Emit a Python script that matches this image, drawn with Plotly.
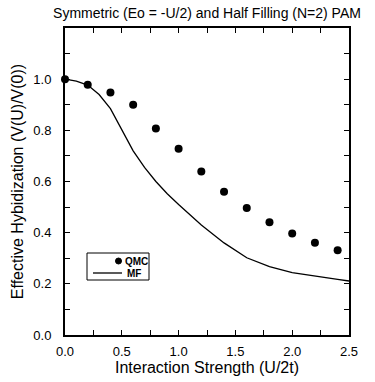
import plotly.graph_objects as go

qmc_x = [0.0, 0.2, 0.4, 0.6, 0.8, 1.0, 1.2, 1.4, 1.6, 1.8, 2.0, 2.2, 2.4]
qmc_y = [1.0, 0.978, 0.948, 0.900, 0.807, 0.728, 0.639, 0.560, 0.496, 0.441, 0.397, 0.361, 0.331]

mf_x = [0.0, 0.1, 0.2, 0.3, 0.4, 0.5, 0.6, 0.7, 0.8, 0.9, 1.0, 1.2, 1.4, 1.6, 1.8, 2.0, 2.2, 2.4, 2.5]
mf_y = [1.0, 0.992, 0.977, 0.94, 0.885, 0.80, 0.72, 0.655, 0.60, 0.552, 0.51, 0.43, 0.36, 0.302, 0.267, 0.244, 0.229, 0.217, 0.211]

x_ticks = [0.0, 0.5, 1.0, 1.5, 2.0, 2.5]
y_ticks = [0.0, 0.2, 0.4, 0.6, 0.8, 1.0]

font = "Liberation Sans, Arial, Helvetica, sans-serif"

fig = go.Figure()
fig.add_trace(go.Scatter(x=qmc_x, y=qmc_y, mode="markers", name="QMC", showlegend=False,
                         marker=dict(color="black", size=8), cliponaxis=False))
fig.add_trace(go.Scatter(x=mf_x, y=mf_y, mode="lines", name="MF", showlegend=False,
                         line=dict(color="black", width=1.3)))

axis_common = dict(showline=True, linecolor="black", linewidth=2, mirror="ticks",
                   ticks="inside", ticklen=5, tickcolor="black", tickwidth=1,
                   showgrid=False, zeroline=False, automargin=False,
                   tickfont=dict(family=font, size=13, color="black"))

fig.update_xaxes(range=[0, 2.5], tickvals=x_ticks, ticktext=[f"{v:.1f}" for v in x_ticks],
                 minor=dict(dtick=0.25, ticks="inside", ticklen=5, tickcolor="black", showgrid=False),
                 ticklabelstandoff=3,
                 title=dict(text="Interaction Strength (U/2t)", font=dict(family=font, size=16, color="black"), standoff=2),
                 **axis_common)
fig.update_yaxes(range=[0, 1.2], tickvals=y_ticks, ticktext=[f"{v:.1f}" for v in y_ticks],
                 minor=dict(dtick=0.1, ticks="inside", ticklen=5, tickcolor="black", showgrid=False),
                 ticklabelstandoff=9,
                 title=dict(text="Effective Hybidization (V(U)/V(0))", font=dict(family=font, size=16, color="black"), standoff=6),
                 **axis_common)

# legend drawn as layout decoration (paper coordinates, from screen pixels)
def px(xp):
    return (xp - 65) / 284.0

def py(yp):
    return (335 - yp) / 307.0

shapes = [
    dict(type="rect", xref="paper", yref="paper", x0=px(87), x1=px(149), y0=py(280), y1=py(253),
         line=dict(color="black", width=1), fillcolor="white", layer="above"),
    dict(type="line", xref="paper", yref="paper", x0=px(93), x1=px(122), y0=py(273), y1=py(273),
         line=dict(color="black", width=1.3), layer="above"),
    dict(type="circle", xref="paper", yref="paper", x0=px(115.5), x1=px(121.5), y0=py(264), y1=py(258),
         line=dict(color="black", width=1), fillcolor="black", layer="above"),
]
annotations = [
    dict(text="<b>QMC</b>", xref="paper", yref="paper", x=px(123), y=py(261), xanchor="left", yanchor="middle",
         showarrow=False, font=dict(family=font, size=10, color="black")),
    dict(text="<b>MF</b>", xref="paper", yref="paper", x=px(125), y=py(273), xanchor="left", yanchor="middle",
         showarrow=False, font=dict(family=font, size=10, color="black")),
]

W, H = 375, 382
fig.update_layout(
    width=W, height=H,
    margin=dict(l=65, r=26, t=28, b=47),
    paper_bgcolor="white", plot_bgcolor="white",
    title=dict(text="Symmetric (Eo = -U/2) and Half Filling (N=2) PAM",
               font=dict(family=font, size=14, color="black"),
               xref="paper", x=0.5, xanchor="center", y=1 - 13.5 / H, yanchor="middle"),
    shapes=shapes, annotations=annotations,
    showlegend=False,
)

# remove the default 8px page margin so the figure fills the window exactly
fig.write_html("out.html", config={"displayModeBar": False},
               post_script="document.body.style.margin='0';")
